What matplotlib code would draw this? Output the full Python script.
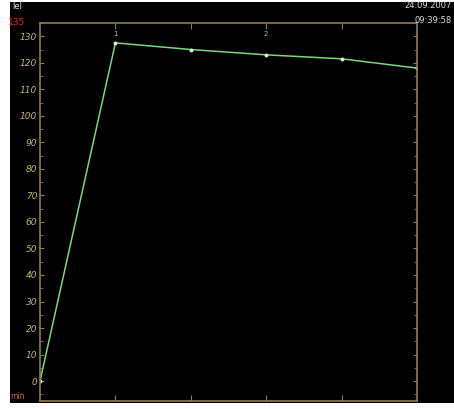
import matplotlib
matplotlib.use('Agg')
import matplotlib.pyplot as plt
from matplotlib.ticker import MultipleLocator

# data
x_pos = [0, 1, 2, 3, 4, 5]
values = [0, 127.5, 125, 123, 121.5, 118]
y_ticks = list(range(0, 131, 10))

spine_col = '#8c7c58'
text_col = '#c9b47a'
line_col = '#7fd47f'

fig = plt.figure(figsize=(4.54, 4.09), dpi=100, facecolor='white')

# black panel behind everything
bg = fig.add_axes([10 / 454, 6 / 409, 444 / 454, 401 / 409])
bg.set_facecolor('black')
bg.set_xticks([])
bg.set_yticks([])
for s in bg.spines.values():
    s.set_visible(False)

ax = fig.add_axes([40 / 454, 8 / 409, 377 / 454, 378 / 409])
ax.set_facecolor('black')
ax.plot(x_pos, values, color=line_col, lw=1.1, marker='o', ms=1.8,
        mfc='#d8f0d8', mec='#d8f0d8')

ax.set_xlim(0, 5)
ax.set_ylim(-7.5, 135)
ax.set_yticks(y_ticks)
ax.set_yticklabels([str(v) for v in y_ticks], style='italic')
ax.yaxis.set_minor_locator(MultipleLocator(5))
ax.tick_params(axis='y', which='both', direction='in', colors=spine_col,
               labelcolor=text_col, labelsize=6.5, length=3, pad=2,
               right=True)
ax.tick_params(axis='y', which='minor', length=2)
ax.set_xticks([1, 2, 3, 4])
ax.set_xticklabels([])
ax.tick_params(axis='x', direction='in', colors=spine_col, length=4,
               top=True, bottom=True)
for s in ax.spines.values():
    s.set_color(spine_col)
    s.set_linewidth(1.2)

ax.text(-0.04, 135, '135', color='#e0302a', fontsize=6.5, ha='right',
        va='center', transform=ax.get_yaxis_transform())
ax.text(-0.04, -7.5, 'min', color='#d06050', fontsize=5.5, ha='right',
        va='bottom', transform=ax.get_yaxis_transform())
ax.text(1, 131, '1', color='#bbbbbb', fontsize=5, ha='center', va='center')
ax.text(3, 131, '2', color='#bbbbbb', fontsize=5, ha='center', va='center')

fig.text(12 / 454, 1 - 2 / 409, 'lel', color='#dddddd', fontsize=6,
         ha='left', va='top')
fig.text(1 - 2 / 454, 1 - 1 / 409, '24.09.2007', color='#dddddd',
         fontsize=6, ha='right', va='top')
fig.text(1 - 2 / 454, 1 - 16 / 409, '09:39:58', color='#dddddd',
         fontsize=6, ha='right', va='top')

fig.savefig('out.png', dpi=100, facecolor='white')
